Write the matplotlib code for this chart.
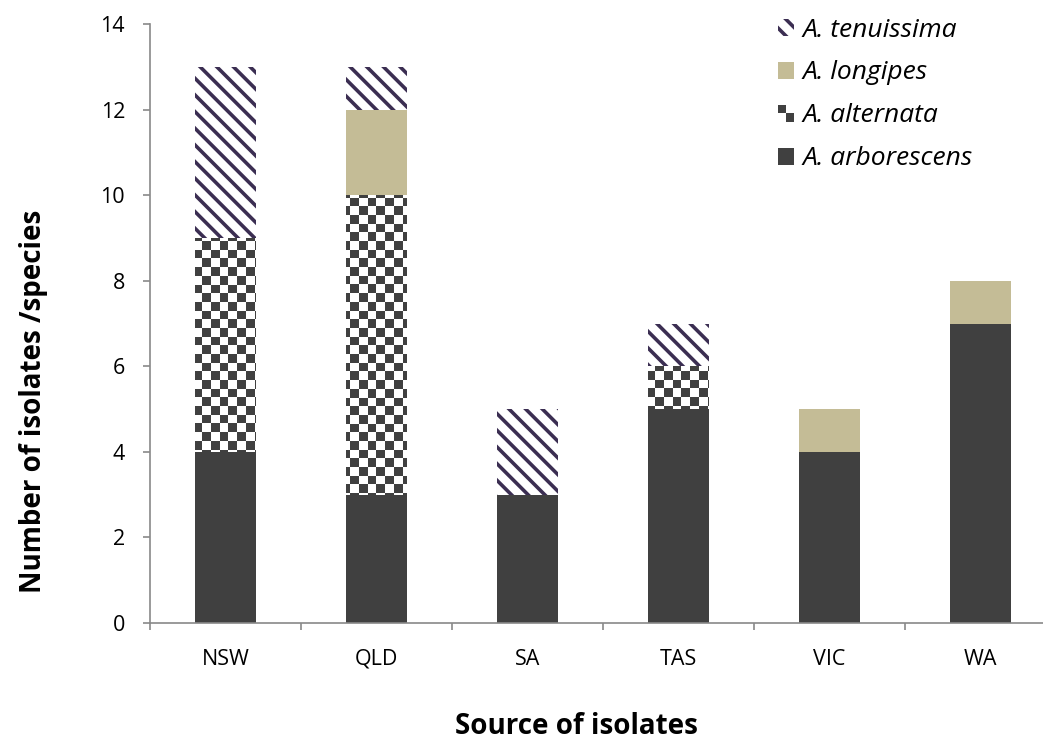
import numpy as np
import matplotlib
matplotlib.use("Agg")
import matplotlib.pyplot as plt
from matplotlib.patches import Rectangle
from matplotlib.legend_handler import HandlerBase
from matplotlib.colors import ListedColormap

categories = ["NSW", "QLD", "SA", "TAS", "VIC", "WA"]
arborescens = [4, 3, 3, 5, 4, 7]
alternata = [5, 7, 0, 1, 0, 0]
longipes = [0, 2, 0, 0, 1, 1]
tenuissima = [4, 1, 2, 1, 0, 0]
species = ["A. arborescens", "A. alternata", "A. longipes", "A. tenuissima"]
yticks = [0, 2, 4, 6, 8, 10, 12, 14]

DARK = "#404040"
TAN = "#c4bc96"
PURPLE = "#3b2e52"
SPINE = "#898989"

plt.rcParams["font.family"] = ["Open Sans", "DejaVu Sans"]
plt.rcParams["hatch.linewidth"] = 2.6

W, H = 1043, 742
fig = plt.figure(figsize=(W / 100, H / 100), dpi=100)
ax = fig.add_axes([150 / W, 119 / H, 906 / W, 599 / H])

x = np.arange(len(categories))
bw = 0.40
arb = np.array(arborescens, float)
alt = np.array(alternata, float)
lon = np.array(longipes, float)
ten = np.array(tenuissima, float)

b1 = ax.bar(x, arb, bw, color=DARK, linewidth=0)
b2 = ax.bar(x, alt, bw, bottom=arb, color="white", linewidth=0)
b3 = ax.bar(x, lon, bw, bottom=arb + alt, color=TAN, linewidth=0)
b4 = ax.bar(x, ten, bw, bottom=arb + alt + lon, facecolor="white",
            edgecolor=PURPLE, hatch="\\\\", linewidth=0)

ax.set_xlim(-0.5, 5.5)
ax.set_ylim(0, 14)

# checkerboard texture for A. alternata, clipped to each bar
cell = 8.7
nx = int(round(906 / cell))
ny = int(round(599 / cell))
checker = (np.add.outer(np.arange(ny), np.arange(nx)) % 2).astype(float)
cmap = ListedColormap(["white", DARK])
for rect, v in zip(b2.patches, alt):
    if v <= 0:
        continue
    im = ax.imshow(checker, extent=(-0.5, 5.5, 0, 14), origin="lower",
                   cmap=cmap, interpolation="nearest", aspect="auto",
                   vmin=0, vmax=1, zorder=rect.get_zorder())
    im.set_clip_path(rect)
ax.set_xlim(-0.5, 5.5)
ax.set_ylim(0, 14)

for s in ["top", "right"]:
    ax.spines[s].set_visible(False)
for s in ["left", "bottom"]:
    ax.spines[s].set_color(SPINE)
    ax.spines[s].set_linewidth(1.2)

ax.set_yticks(yticks)
ax.set_yticklabels([str(v) for v in yticks])
ax.tick_params(axis="y", direction="out", length=5, width=1.2, color=SPINE,
               labelsize=15.5, pad=13)

ax.set_xticks(np.arange(-0.5, 6.0, 1.0))
ax.set_xticklabels([])
ax.tick_params(axis="x", which="major", direction="out", length=5, width=1.2,
               color=SPINE)
ax.set_xticks(x, minor=True)
ax.set_xticklabels(categories, minor=True)
ax.tick_params(axis="x", which="minor", length=0, labelsize=15.5, pad=18.5)

fig.text(576 / W, 1 - 734 / H, "Source of isolates", ha="center",
         va="baseline", fontsize=20, fontweight="bold")
fig.text(34 / W, 1 - 401 / H, "Number of isolates /species", ha="center",
         va="center", rotation=90, fontsize=20, fontweight="bold")


class CheckerHandler(HandlerBase):
    def create_artists(self, legend, orig_handle, xdescent, ydescent, width,
                       height, fontsize, trans):
        arts = []
        s = min(width, height)
        x0 = -xdescent + (width - s) / 2
        y0 = -ydescent
        half = s / 2
        cols = [["white", DARK], [DARK, "white"]]
        for i in range(2):
            for j in range(2):
                r = Rectangle((x0 + j * half, y0 + i * half), half, half,
                              facecolor=cols[i][j], edgecolor="none",
                              transform=trans)
                arts.append(r)
        return arts


class SquareHandler(HandlerBase):
    def create_artists(self, legend, orig_handle, xdescent, ydescent, width,
                       height, fontsize, trans):
        s = min(width, height)
        x0 = -xdescent + (width - s) / 2
        r = Rectangle((x0, -ydescent), s, s,
                      facecolor=orig_handle.get_facecolor(),
                      edgecolor=orig_handle.get_edgecolor(),
                      hatch=orig_handle.get_hatch(), linewidth=0,
                      transform=trans)
        return [r]


h_ten = Rectangle((0, 0), 1, 1, facecolor="white", edgecolor=PURPLE,
                  hatch="\\\\", linewidth=0)
h_lon = Rectangle((0, 0), 1, 1, facecolor=TAN, linewidth=0)
h_alt = Rectangle((0, 0), 1, 1, facecolor="white", linewidth=0)
h_arb = Rectangle((0, 0), 1, 1, facecolor=DARK, linewidth=0)

leg = fig.legend([h_ten, h_lon, h_alt, h_arb], species[::-1],
                 handler_map={h_ten: SquareHandler(), h_lon: SquareHandler(),
                              h_alt: CheckerHandler(), h_arb: SquareHandler()},
                 loc="upper left", bbox_to_anchor=(767 / W, 1 - 7 / H),
                 frameon=False, prop={"style": "italic", "size": 19},
                 handlelength=0.64, handleheight=0.64, handletextpad=0.3,
                 labelspacing=0.68, borderaxespad=0)

fig.savefig("out.png", dpi=100)
